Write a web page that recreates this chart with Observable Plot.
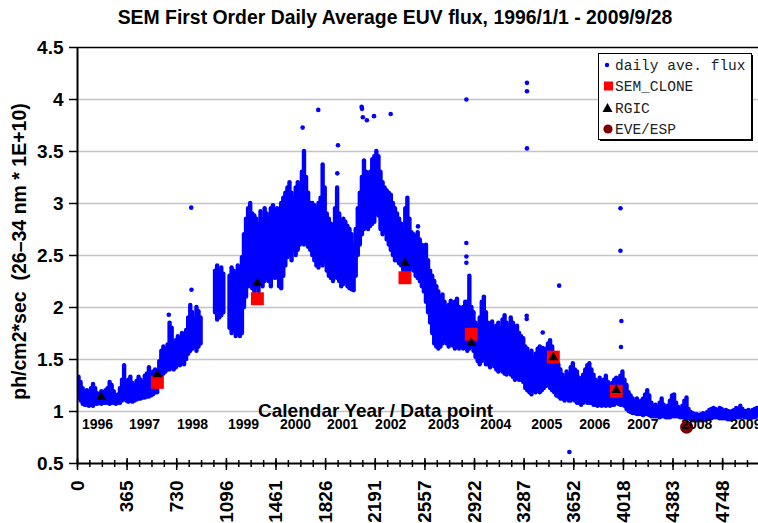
<!DOCTYPE html>
<html>
<head>
<meta charset="utf-8">
<script src="https://cdn.jsdelivr.net/npm/d3@7"></script>
<script src="https://cdn.jsdelivr.net/npm/@observablehq/plot@0.6"></script>
<style>
  html, body { margin: 0; padding: 0; background: #fff; }
  #chart { width: 758px; height: 523px; overflow: hidden; }
</style>
</head>
<body>
<div id="chart"></div>
<script>
// ---------- DATA ----------
const titleText = "SEM First Order Daily Average EUV flux, 1996/1/1 - 2009/9/28";
const yLabelText = "ph/cm2*sec  (26\u201334 nm * 1E+10)";
const xNoteText = "Calendar Year / Data point";

const years = [1996,1997,1998,1999,2000,2001,2002,2003,2004,2005,2006,2007,2008,2009];
const yearStartDay = [0,366,731,1096,1461,1827,2192,2557,2922,3288,3653,4018,4383,4749];
const yearLabelDay = [147,493,847,1222,1605,1951,2305,2695,3078,3454,3807,4161,4558,4919];

const xTickDays = [0,365,730,1096,1461,1826,2191,2557,2922,3287,3652,4018,4383,4748];
const yTicks = [0.5,1,1.5,2,2.5,3,3.5,4,4.5];

// daily average flux: [low, high] of the daily values in each ~15-day bin (24 bins / year)
const flux1996 = [[1.13,1.33],[1.10,1.28],[1.07,1.22],[1.06,1.18],[1.06,1.20],[1.05,1.18],[1.06,1.22],[1.05,1.26],[1.07,1.22],[1.07,1.17],[1.08,1.16],[1.07,1.19],[1.08,1.18],[1.08,1.20],[1.08,1.22],[1.07,1.28],[1.08,1.25],[1.08,1.19],[1.07,1.15],[1.08,1.16],[1.08,1.22],[1.10,1.30],[1.12,1.44],[1.10,1.28]];
const flux1997 = [[1.09,1.30],[1.10,1.33],[1.09,1.27],[1.10,1.25],[1.11,1.29],[1.12,1.33],[1.12,1.30],[1.13,1.28],[1.13,1.34],[1.14,1.36],[1.14,1.42],[1.15,1.33],[1.16,1.38],[1.18,1.40],[1.18,1.36],[1.30,1.48],[1.34,1.58],[1.36,1.62],[1.38,1.60],[1.40,1.64],[1.40,1.85],[1.42,1.80],[1.40,1.66],[1.42,1.68]];
const flux1998 = [[1.45,1.72],[1.44,1.70],[1.47,1.75],[1.45,1.72],[1.50,1.78],[1.55,1.90],[1.58,2.02],[1.60,1.95],[1.62,1.88],[1.58,2.00],[1.62,1.96],[1.65,1.90],null,null,null,null,null,null,[1.95,2.35],[1.88,2.40],[1.90,2.30],[1.92,2.38],[1.95,2.32],null];
const flux1999 = [null,[1.80,2.30],[1.75,2.38],[1.78,2.35],[1.72,2.32],[1.78,2.40],[1.72,2.30],[1.75,2.48],[2.00,2.70],[2.10,2.85],[2.20,2.95],[2.25,3.00],[2.18,2.90],[2.15,2.88],[2.20,2.85],[2.15,2.80],[2.25,2.92],[2.20,2.85],[2.25,2.95],[2.28,2.90],[2.25,2.85],[2.20,2.95],[2.30,2.98],[2.28,2.88]];
const flux2000 = [[2.35,2.95],[2.20,2.90],[2.18,3.00],[2.30,3.05],[2.40,3.10],[2.48,3.15],[2.50,3.20],[2.45,3.10],[2.55,3.05],[2.50,3.15],[2.55,3.20],[2.60,3.10],[2.65,3.30],[2.60,3.50],[2.62,3.25],[2.58,3.10],[2.55,3.00],[2.50,3.00],[2.45,2.98],[2.40,2.95],[2.38,3.00],[2.42,3.05],[2.40,3.37],[2.45,3.15]];
const flux2001 = [[2.35,2.90],[2.30,2.85],[2.28,2.80],[2.25,2.75],[2.30,2.95],[2.28,3.15],[2.25,2.90],[2.20,2.80],[2.22,2.85],[2.25,2.82],[2.20,2.78],[2.18,2.75],[2.17,2.70],[2.16,2.60],[2.30,2.75],[2.50,2.95],[2.60,3.10],[2.70,3.25],[2.75,3.41],[2.80,3.30],[2.75,3.25],[2.78,3.30],[2.80,3.42],[2.82,3.45]];
const flux2002 = [[2.90,3.50],[2.88,3.45],[2.75,3.30],[2.70,3.20],[2.72,3.15],[2.65,3.12],[2.60,3.10],[2.55,3.08],[2.50,3.00],[2.45,2.95],[2.45,2.90],[2.42,2.85],[2.40,2.80],[2.35,2.75],[2.28,2.95],[2.30,3.05],[2.35,2.85],[2.38,2.72],[2.35,2.70],[2.30,2.68],[2.28,2.72],[2.25,2.65],[2.20,2.60],[2.15,2.55]];
const flux2003 = [[2.05,2.60],[1.95,2.45],[1.85,2.35],[1.75,2.30],[1.65,2.25],[1.62,2.20],[1.60,2.15],[1.62,2.10],[1.65,2.12],[1.68,2.05],[1.65,2.00],[1.62,2.02],[1.65,2.06],[1.63,1.98],[1.60,2.05],[1.62,2.08],[1.60,2.00],[1.63,1.95],[1.60,2.00],[1.62,2.05],[1.58,2.05],[1.60,2.30],[1.62,2.00],[1.58,1.95]];
const flux2004 = [[1.52,1.85],[1.48,1.82],[1.45,1.90],[1.48,2.05],[1.50,2.10],[1.45,1.95],[1.45,1.85],[1.42,1.80],[1.45,1.86],[1.43,1.80],[1.40,1.82],[1.38,1.85],[1.40,1.80],[1.38,1.88],[1.36,1.92],[1.35,1.85],[1.38,1.80],[1.35,1.90],[1.33,1.85],[1.30,1.78],[1.32,1.82],[1.30,1.75],[1.30,1.72],[1.28,1.70]];
const flux2005 = [[1.22,1.62],[1.20,1.60],[1.18,1.55],[1.16,1.58],[1.20,1.52],[1.18,1.55],[1.20,1.60],[1.18,1.62],[1.20,1.58],[1.22,1.55],[1.24,1.60],[1.25,1.65],[1.22,1.68],[1.20,1.62],[1.18,1.55],[1.15,1.50],[1.14,1.45],[1.12,1.40],[1.12,1.35],[1.10,1.32],[1.12,1.38],[1.10,1.35],[1.10,1.42],[1.12,1.46]];
const flux2006 = [[1.10,1.40],[1.08,1.38],[1.08,1.32],[1.06,1.30],[1.08,1.35],[1.10,1.40],[1.08,1.44],[1.08,1.46],[1.08,1.40],[1.06,1.35],[1.06,1.30],[1.05,1.28],[1.06,1.32],[1.05,1.28],[1.06,1.30],[1.05,1.34],[1.06,1.28],[1.05,1.25],[1.06,1.27],[1.06,1.30],[1.08,1.32],[1.07,1.30],[1.06,1.34],[1.06,1.38]];
const flux2007 = [[1.05,1.30],[1.02,1.25],[1.00,1.18],[0.99,1.15],[0.98,1.12],[0.98,1.10],[0.97,1.12],[0.97,1.08],[0.97,1.10],[0.96,1.12],[0.97,1.16],[0.97,1.20],[0.96,1.15],[0.95,1.08],[0.95,1.05],[0.95,1.06],[0.95,1.04],[0.94,1.08],[0.95,1.12],[0.95,1.06],[0.94,1.03],[0.94,1.05],[0.94,1.10],[0.95,1.15]];
const flux2008 = [[0.95,1.16],[0.95,1.08],[0.95,1.04],[0.94,1.02],[0.94,1.05],[0.94,1.10],[0.94,1.13],[0.93,1.02],[0.92,0.99],[0.91,0.98],[0.91,0.97],[0.91,0.97],[0.91,0.96],[0.91,0.97],[0.91,0.98],[0.92,0.97],[0.92,0.99],[0.93,1.01],[0.93,1.02],[0.94,1.03],[0.94,1.02],[0.94,1.01],[0.93,1.03],[0.93,1.02]];
const flux2009 = [[0.93,1.00],[0.93,1.01],[0.92,1.00],[0.92,0.99],[0.93,1.00],[0.93,1.01],[0.94,1.03],[0.94,1.02],[0.94,1.05],[0.95,1.02],[0.94,1.00],[0.94,1.00],[0.93,1.01],[0.93,0.99],[0.94,1.01],[0.94,1.02],[0.95,1.03],[0.95,1.03]];

// isolated daily values standing apart from the band
const spikeDay  = [672,837,839,1657,1772,1912,1917,2091,2094,2100,2130,2182,2305,2506,2862,2862,2862,2862,3306,3306,3308,3308,3308,3424,3424,3545,3620,3996,3996,4000,4003];
const spikeFlux = [1.93,2.96,2.17,3.73,3.90,3.29,3.56,3.93,3.91,3.83,3.80,3.84,3.86,2.78,4.00,2.62,2.49,2.43,1.92,1.89,4.16,4.08,3.53,1.76,1.61,2.21,0.61,2.955,2.545,1.62,1.87];

// comparison measurements
const semCloneDay  = [588,1324,2410,2898,3502,3965];
const semCloneFlux = [1.28,2.084,2.286,1.743,1.523,1.195];
const rgicDay  = [173,588,1324,2410,2898,3502,3965];
const rgicFlux = [1.138,1.356,2.234,2.426,1.66,1.52,1.205];
const eveDay  = [4483];
const eveFlux = [0.849];

const legendLabels = ["daily ave. flux","SEM_CLONE","RGIC","EVE/ESP"];

// ---------- BUILD ----------
const fluxByYear = [flux1996,flux1997,flux1998,flux1999,flux2000,flux2001,flux2002,flux2003,flux2004,flux2005,flux2006,flux2007,flux2008,flux2009];
const band = [];
fluxByYear.forEach((bins, yi) => {
  const start = yearStartDay[yi];
  const len = (yearStartDay[yi+1] ?? start + 365) - start;
  bins.forEach((b, j) => {
    if (b) band.push({day: start + (j + 0.5) * len / 24, lo: b[0], hi: b[1]});
  });
});
const spikes = spikeDay.map((d, i) => ({day: d, flux: spikeFlux[i]}));
const sem = semCloneDay.map((d, i) => ({day: d, flux: semCloneFlux[i]}));
const rgic = rgicDay.map((d, i) => ({day: d, flux: rgicFlux[i]}));
const eve = eveDay.map((d, i) => ({day: d, flux: eveFlux[i]}));
const yearLabels = years.map((y, i) => ({day: yearLabelDay[i], text: String(y)}));
const xMinor = d3.range(0, 5012, 365.25 / 4).map(Math.round);
const gridVals = yTicks.filter(v => v > 0.5 && v < 4.5);

const FONT = "'Liberation Sans', Arial, sans-serif";
const BLUE = "#0000ff";

const chart = Plot.plot({
  width: 758,
  height: 523,
  marginTop: 47,
  marginBottom: 60,
  marginLeft: 77,
  marginRight: 0,
  style: {fontFamily: FONT, background: "#fff", color: "#000", overflow: "visible"},
  x: {domain: [0, 5012], axis: null},
  y: {domain: [0.5, 4.5], axis: null},
  marks: [
    Plot.ruleY(gridVals, {stroke: "#c4c4c4", strokeWidth: 1.5}),
    Plot.ruleY([4.5], {stroke: "#000", strokeWidth: 1.5}),
    Plot.ruleX(band, {x: "day", y1: "lo", y2: "hi", stroke: BLUE, strokeWidth: 4.4, strokeLinecap: "round", clip: true}),
    Plot.dot(spikes, {x: "day", y: "flux", r: 2.3, fill: BLUE, stroke: null, clip: true}),
    Plot.dot(sem, {x: "day", y: "flux", symbol: "square", r: 7.3, fill: "#ff0000", stroke: null}),
    Plot.dot(rgic, {x: "day", y: "flux", symbol: "triangle", r: 3.6, fill: "#000", stroke: null}),
    Plot.dot(eve, {x: "day", y: "flux", r: 6.5, fill: "#800000", stroke: null}),
    Plot.text(yearLabels, {x: "day", y: () => 0.875, text: "text", fontSize: 14, fontWeight: "bold", fill: "#000", textAnchor: "middle", lineAnchor: "middle"}),
    Plot.text([xNoteText], {x: () => 2194, y: () => 1.01, text: d => d, fontSize: 19, fontWeight: "bold", fill: "#000", textAnchor: "middle", lineAnchor: "middle"}),
    Plot.ruleX([0], {stroke: "#000", strokeWidth: 2}),
    Plot.ruleY([0.5], {stroke: "#000", strokeWidth: 2}),
    Plot.axisY({ticks: yTicks, label: null, tickSize: 8, tickPadding: 6, tickFormat: d => String(d), fontSize: 19, fontWeight: "bold", strokeWidth: 1.5}),
    Plot.axisX({ticks: xMinor, label: null, tickSize: 7, dy: -3, tickFormat: () => "", strokeWidth: 1.5}),
    Plot.axisX({ticks: xTickDays, label: null, tickSize: 12, dy: -5, tickFormat: () => "", strokeWidth: 1.5}),
    Plot.axisX({ticks: xTickDays, label: null, tickSize: 0, tickPadding: 17, tickRotate: -90, tickFormat: d => String(d), fontSize: 19, fontWeight: "bold"}),
    Plot.text([titleText], {frameAnchor: "top", dy: -30, dx: -23, text: d => d, fontSize: 19.4, fontWeight: "bold", lineAnchor: "middle", fill: "#000"}),
    Plot.text([yLabelText], {frameAnchor: "left", dx: -58, dy: -4, rotate: -90, text: d => d, fontSize: 19.5, fontWeight: "bold", textAnchor: "middle", lineAnchor: "middle", fill: "#000"})
  ]
});
document.getElementById("chart").appendChild(chart);

// ---------- LEGEND (inside plot area, top right) ----------
const svg = d3.select(chart);
const lg = svg.append("g")
  .attr("font-family", "'Liberation Mono', 'Courier New', monospace")
  .attr("font-size", 14.5)
  .attr("text-anchor", "start");
lg.append("rect").attr("x", 600).attr("y", 55).attr("width", 153).attr("height", 86).attr("fill", "#000");
lg.append("rect").attr("x", 598.5).attr("y", 53.5).attr("width", 153).attr("height", 86).attr("fill", "#fff").attr("stroke", "#000").attr("stroke-width", 1);
const rowY = [65, 86, 108, 129];
lg.append("circle").attr("cx", 607).attr("cy", rowY[0]).attr("r", 2.2).attr("fill", BLUE);
lg.append("rect").attr("x", 604).attr("y", rowY[1] - 4.5).attr("width", 9).attr("height", 9).attr("fill", "#ff0000");
lg.append("path").attr("d", `M${607.5},${rowY[2]-5} L${612.5},${rowY[2]+4} L${602.5},${rowY[2]+4} Z`).attr("fill", "#000");
lg.append("circle").attr("cx", 608).attr("cy", rowY[3]).attr("r", 4.6).attr("fill", "#800000");
legendLabels.forEach((t, i) => {
  lg.append("text").attr("x", 615).attr("y", rowY[i]).attr("dy", "0.35em").attr("text-anchor", "start").attr("fill", "#222").text(t);
});
</script>
</body>
</html>
